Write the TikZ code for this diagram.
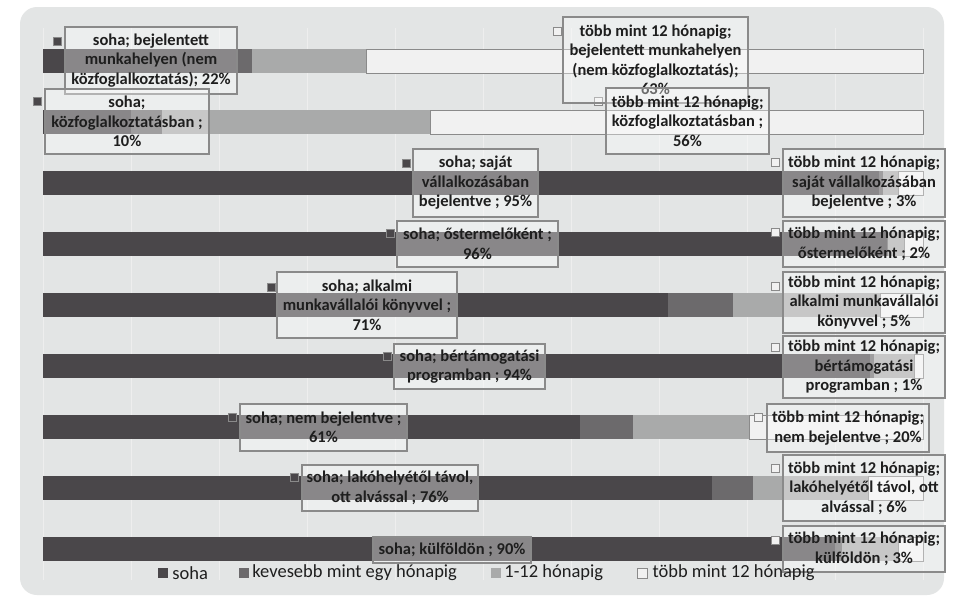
\documentclass[tikz,border=0pt]{standalone}
\usepackage{fontspec}
\setmainfont{Carlito}
\usepackage{tikz}
\usetikzlibrary{positioning}

\definecolor{chartbg}{HTML}{E3E5E5}
\definecolor{gridcol}{HTML}{EEEEEE}
\definecolor{cdark}{HTML}{4A474A}
\definecolor{cmid}{HTML}{6C6A6C}
\definecolor{clight}{HTML}{A9AAAA}
\definecolor{cpale}{HTML}{F1F1F1}
\definecolor{boxgray}{HTML}{8A8A8A}
\definecolor{labeltext}{HTML}{1E1E1E}

\tikzset{
  lbl/.style={draw=boxgray, line width=1.4pt, fill=white, fill opacity=.35, text opacity=1,
    text=labeltext, align=center, inner sep=0pt, font=\fontsize{16.5}{19.5}\selectfont\bfseries},
  keysq/.style={draw=boxgray, line width=.8pt, minimum size=8, inner sep=0pt},
  legsq/.style={minimum size=10, inner sep=0pt},
  legtxt/.style={font=\fontsize{18.5}{20}\selectfont, text=labeltext, inner sep=0pt},
  palebar/.style={fill=cpale, draw=boxgray, line width=.8pt}
}

\begin{document}
\begin{tikzpicture}[x=1pt,y=-1pt]
\useasboundingbox (0,0) rectangle (953,598);
\fill[white] (0,0) rectangle (953,598);
\fill[chartbg, rounded corners=17] (20,7) rectangle (944,595);
\foreach \gx in {43,131,...,923} \draw[gridcol, line width=1pt] (\gx,28) -- (\gx,580);
% bars: soha / kevesebb mint egy / 1-12 / tobb mint 12
\fill[cdark] (43,49) rectangle (237,73);
\fill[cmid] (237,49) rectangle (252,73);
\fill[clight] (252,49) rectangle (366,73);
\filldraw[palebar] (366,49) rectangle (923,73);
\fill[cdark] (43,110) rectangle (131,134);
\fill[cmid] (131,110) rectangle (162,134);
\fill[clight] (162,110) rectangle (430,134);
\filldraw[palebar] (430,110) rectangle (923,134);
\fill[cdark] (43,171) rectangle (879,195);
\fill[cmid] (879,171) rectangle (883,195);
\fill[clight] (883,171) rectangle (898,195);
\filldraw[palebar] (898,171) rectangle (923,195);
\fill[cdark] (43,232) rectangle (887,256);
\fill[cmid] (887,232) rectangle (888,256);
\fill[clight] (888,232) rectangle (904,256);
\filldraw[palebar] (904,232) rectangle (923,256);
\fill[cdark] (43,293) rectangle (668,317);
\fill[cmid] (668,293) rectangle (733,317);
\fill[clight] (733,293) rectangle (880,317);
\filldraw[palebar] (880,293) rectangle (923,317);
\fill[cdark] (43,354) rectangle (870,378);
\fill[cmid] (870,354) rectangle (874,378);
\fill[clight] (874,354) rectangle (914,378);
\filldraw[palebar] (914,354) rectangle (923,378);
\fill[cdark] (43,415) rectangle (580,439);
\fill[cmid] (580,415) rectangle (633,439);
\fill[clight] (633,415) rectangle (749,439);
\filldraw[palebar] (749,415) rectangle (923,439);
\fill[cdark] (43,476) rectangle (712,500);
\fill[cmid] (712,476) rectangle (753,500);
\fill[clight] (753,476) rectangle (868,500);
\filldraw[palebar] (868,476) rectangle (923,500);
\fill[cdark] (43,537) rectangle (835,561);
\fill[cmid] (835,537) rectangle (842,561);
\fill[clight] (842,537) rectangle (898,561);
\filldraw[palebar] (898,537) rectangle (923,561);
% legend keys beside the labels
\node[keysq, fill=cdark] (k1) at (57,41) {};
\node[keysq, fill=cdark] (k2) at (37,101) {};
\node[keysq, fill=cpale] (k3) at (557,31) {};
\node[keysq, fill=cpale] (k4) at (598,101) {};
\node[keysq, fill=cdark] (k5) at (406,163) {};
\node[keysq, fill=cpale] (k6) at (775,162) {};
\node[keysq, fill=cdark] (k7) at (390,233) {};
\node[keysq, fill=cpale] (k8) at (775,232) {};
\node[keysq, fill=cdark] (k9) at (271,287) {};
\node[keysq, fill=cpale] (k10) at (775,286) {};
\node[keysq, fill=cdark] (k11) at (387,356) {};
\node[keysq, fill=cpale] (k12) at (775,347) {};
\node[keysq, fill=cdark] (k13) at (232,417) {};
\node[keysq, fill=cpale] (k14) at (758,417) {};
\node[keysq, fill=cdark] (k15) at (294,477) {};
\node[keysq, fill=cpale] (k16) at (775,468) {};
\node[keysq, fill=cpale] (k18) at (775,540) {};
% data labels
\node[lbl, minimum width=172, minimum height=67] (l1) at (151,60.5) {soha; bejelentett\\munkahelyen (nem\\közfoglalkoztatás); 22\%};
\node[lbl, minimum width=164, minimum height=65] (l2) at (127,121.5) {soha;\\közfoglalkoztatásban ;\\10\%};
\node[lbl, minimum width=185, minimum height=86] (l3) at (655.5,60) {több mint 12 hónapig;\\bejelentett munkahelyen\\(nem közfoglalkoztatás);\\63\%};
\node[lbl, minimum width=163, minimum height=66] (l4) at (687.5,121) {több mint 12 hónapig;\\közfoglalkoztatásban ;\\56\%};
\node[lbl, minimum width=125, minimum height=68] (l5) at (475.5,183) {soha; saját\\vállalkozásában\\bejelentve ; 95\%};
\node[lbl, minimum width=162, minimum height=68] (l6) at (864,183) {több mint 12 hónapig;\\saját vállalkozásában\\bejelentve ; 3\%};
\node[lbl, minimum width=161, minimum height=46] (l7) at (477.5,244) {soha; őstermelőként ;\\96\%};
\node[lbl, minimum width=162, minimum height=46] (l8) at (864,244) {több mint 12 hónapig;\\őstermelőként ; 2\%};
\node[lbl, minimum width=180, minimum height=66] (l9) at (367,305) {soha; alkalmi\\munkavállalói könyvvel ;\\71\%};
\node[lbl, minimum width=162, minimum height=61] (l10) at (864,302.5) {több mint 12 hónapig;\\alkalmi munkavállalói\\könyvvel ; 5\%};
\node[lbl, minimum width=151, minimum height=45] (l11) at (469.5,366.5) {soha; bértámogatási\\programban ; 94\%};
\node[lbl, minimum width=162, minimum height=62] (l12) at (864,367) {több mint 12 hónapig;\\bértámogatási\\programban ; 1\%};
\node[lbl, minimum width=167, minimum height=47] (l13) at (323.5,427.5) {soha; nem bejelentve ;\\61\%};
\node[lbl, minimum width=162, minimum height=48] (l14) at (848,428) {több mint 12 hónapig;\\nem bejelentve ; 20\%};
\node[lbl, minimum width=176, minimum height=46] (l15) at (390,488) {soha; lakóhelyétől távol,\\ott alvással ; 76\%};
\node[lbl, minimum width=162, minimum height=66] (l16) at (864,488) {több mint 12 hónapig;\\lakóhelyétől távol, ott\\alvással ; 6\%};
\node[lbl, minimum width=158, minimum height=26] (l17) at (452,550) {soha; külföldön ; 90\%};
\node[lbl, minimum width=162, minimum height=46] (l18) at (864,549) {több mint 12 hónapig;\\külföldön ; 3\%};
% legend
\node[legsq, fill=cdark] (q1) at (163,573) {};
\node[legtxt, right=4pt of q1] (t1) {soha};
\node[legsq, fill=cmid] (q2) at (244,573) {};
\node[legtxt, right=3pt of q2] (t2) {kevesebb mint egy hónapig};
\node[legsq, fill=clight] (q3) at (496,573) {};
\node[legtxt, right=3pt of q3] (t3) {1-12 hónapig};
\node[legsq, fill=cpale, draw=boxgray, line width=.8pt] (q4) at (642,573) {};
\node[legtxt, right=5pt of q4] (t4) {több mint 12 hónapig};
\end{tikzpicture}
\end{document}
